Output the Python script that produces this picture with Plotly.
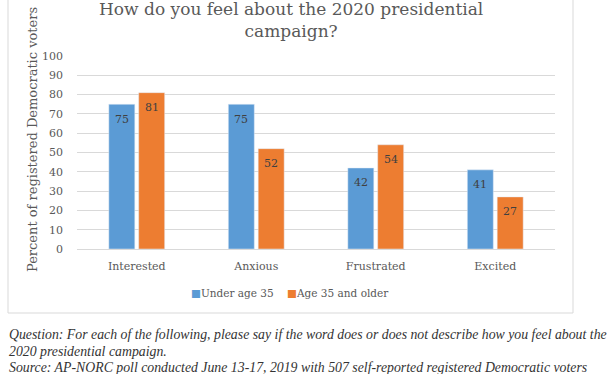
import plotly.graph_objects as go

categories = ["Interested", "Anxious", "Frustrated", "Excited"]
under_35 = [75, 75, 42, 41]
over_35 = [81, 52, 54, 27]
series_names = ["Under age 35", "Age 35 and older"]
y_ticks = [0, 10, 20, 30, 40, 50, 60, 70, 80, 90, 100]
footnote_lines = [
    "Question: For each of the following, please say if the word does or does not describe how you feel about the",
    "2020 presidential campaign.",
    "Source: AP-NORC poll conducted June 13-17, 2019 with 507 self-reported registered Democratic voters",
]

BLUE = "#5B9BD5"
ORANGE = "#ED7D31"
FONT = "DejaVu Serif"
GRAY = "#595959"

# plot area in pixels
L, R, T, B = 77, 555, 56, 249
W, H = R - L, B - T
BARGAP, GROUPGAP = 0.5, 0.13

def px_x(p):
    return (p - L) / W

def px_y(p):
    return (B - p) / H

fig = go.Figure()
series = [(series_names[0], under_35, BLUE), (series_names[1], over_35, ORANGE)]
for name, vals, col in series:
    fig.add_trace(go.Bar(x=categories, y=vals, name=name, marker_color=col, showlegend=False))

# value labels placed a little below the top of each bar
slot = W / len(categories) * (1 - BARGAP) / 2
for i, (name, vals, col) in enumerate(series):
    shift = (i - 0.5) * slot
    for c, v in zip(categories, vals):
        fig.add_annotation(x=c, y=v, text=str(v), showarrow=False, xshift=shift, yshift=-15,
                           font=dict(family=FONT, size=11, color="#404040"))

fig.update_layout(
    width=612, height=374,
    margin=dict(l=L, r=612 - R, t=T, b=374 - B),
    paper_bgcolor="white", plot_bgcolor="white",
    barmode="group", bargap=BARGAP, bargroupgap=GROUPGAP,
    font=dict(family=FONT, color=GRAY, size=11),
    showlegend=False,
    xaxis=dict(showline=True, linecolor="#D9D9D9", linewidth=1, ticks="", ticklabelstandoff=7,
               tickfont=dict(family=FONT, size=11, color=GRAY)),
    yaxis=dict(range=[0, 100], tickvals=y_ticks, showgrid=True, gridcolor="#D9D9D9",
               zeroline=False, showline=False, ticks="", ticklabelstandoff=13,
               tickfont=dict(family=FONT, size=11, color=GRAY)),
)

# legend
legend_text = "&nbsp;&nbsp;&nbsp;&nbsp;".join(
    f"<span style='color:{col}'>■</span>{name}" for name, _, col in series)
fig.add_annotation(xref="paper", yref="paper", x=px_x(290), y=px_y(293), text=legend_text,
                   showarrow=False, xanchor="center", yanchor="middle",
                   font=dict(family=FONT, size=10.5, color=GRAY))

# outer chart frame
fig.add_shape(type="rect", xref="paper", yref="paper",
              x0=px_x(8), x1=px_x(573), y0=px_y(313), y1=px_y(-5),
              line=dict(color="#D9D9D9", width=1), layer="below")

# title
fig.add_annotation(xref="paper", yref="paper", x=px_x(291), y=px_y(20),
                   text="How do you feel about the 2020 presidential<br>campaign?",
                   showarrow=False, xanchor="center", yanchor="middle",
                   font=dict(family=FONT, size=17, color=GRAY))

# y-axis title
fig.add_annotation(xref="paper", yref="paper", x=px_x(32), y=px_y(140),
                   text="Percent of registered Democratic voters", textangle=-90,
                   showarrow=False, xanchor="center", yanchor="middle",
                   font=dict(family=FONT, size=13, color=GRAY))

# footnote, one annotation per line
for line, yc in zip(footnote_lines, [334, 351, 367]):
    fig.add_annotation(xref="paper", yref="paper", x=px_x(7), y=px_y(yc), align="left",
                       text=f"<i>{line}</i>", showarrow=False, xanchor="left", yanchor="middle",
                       font=dict(family="Liberation Serif", size=13.8, color="#333333"))

fig.write_html("out.html", config={"displayModeBar": False},
               post_script="document.body.style.margin='0';")
